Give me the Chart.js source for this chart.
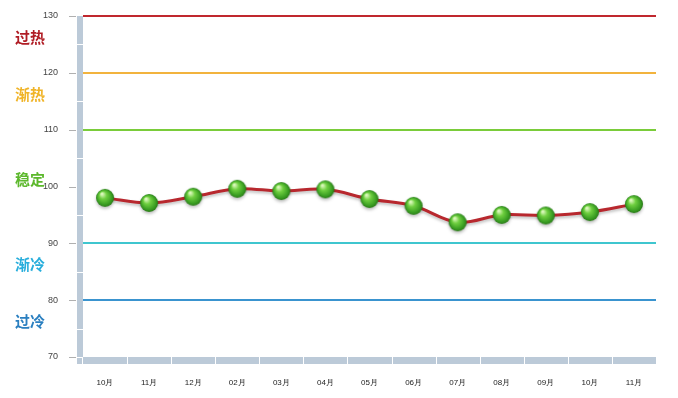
<!DOCTYPE html>
<html>
<head>
<meta charset="utf-8">
<script src="https://cdn.jsdelivr.net/npm/chart.js"></script>
<style>
  html, body { margin: 0; padding: 0; background: #fff; }
  #wrap { width: 678px; height: 398px; }
</style>
</head>
<body>
<div id="wrap"><canvas id="graficoMes"></canvas></div>
<script>
// categorias e valores
const meses = ['10月','11月','12月','02月','03月','04月','05月','06月','07月','08月','09月','10月','11月'];
const valores = [98.0, 97.1, 98.2, 99.6, 99.2, 99.5, 97.8, 96.6, 93.7, 95.0, 94.9, 95.5, 96.9];
// faixas
const limites = [130, 120, 110, 90, 80];
const coresLimite = ['#c0282e', '#f2b33d', '#7acc3a', '#3fc6cf', '#3a94cf'];
const faixas = ['过热', '渐热', '稳定', '渐冷', '过冷'];
const faixasValor = [125, 115, 100, 85, 75];
const coresFaixa = ['#b01c24', '#f0b428', '#5cb82c', '#28aedc', '#2a7fc0'];

// bolinha verde
function bolinha(d) {
  const c = document.createElement('canvas');
  c.width = d + 2; c.height = d + 2;
  const g = c.getContext('2d');
  const r = d / 2, cx = r + 1, cy = r + 1;
  const grad = g.createRadialGradient(cx - r * 0.35, cy - r * 0.45, r * 0.1, cx, cy, r);
  grad.addColorStop(0, '#d8f7b8');
  grad.addColorStop(0.35, '#6fcf40');
  grad.addColorStop(0.8, '#3a9e22');
  grad.addColorStop(1, '#2a7a18');
  g.fillStyle = grad;
  g.beginPath(); g.arc(cx, cy, r, 0, Math.PI * 2); g.fill();
  return c;
}

const fundo = {
  id: 'fundo',
  beforeDatasetsDraw(chart) {
    const ctx = chart.ctx, a = chart.chartArea, y = chart.scales.y;
    ctx.save();
    // parede
    ctx.fillStyle = '#bccad8';
    ctx.fillRect(a.left - 6, a.top, 6, a.bottom - a.top + 7);
    ctx.fillRect(a.left, a.bottom, a.right - a.left, 7);
    ctx.strokeStyle = '#ffffff';
    ctx.lineWidth = 1;
    for (let v = 125; v > 70; v -= 10) {
      const py = Math.round(y.getPixelForValue(v)) + 0.5;
      ctx.beginPath(); ctx.moveTo(a.left - 6, py); ctx.lineTo(a.left, py); ctx.stroke();
    }
    ctx.beginPath(); ctx.moveTo(a.left - 6, a.bottom + 0.5); ctx.lineTo(a.left, a.bottom + 0.5); ctx.stroke();
    ctx.beginPath(); ctx.moveTo(a.left - 0.5, a.bottom); ctx.lineTo(a.left - 0.5, a.bottom + 7); ctx.stroke();
    const w = (a.right - a.left) / meses.length;
    for (let i = 1; i < meses.length; i++) {
      const px = Math.round(a.left + w * i) + 0.5;
      ctx.beginPath(); ctx.moveTo(px, a.bottom); ctx.lineTo(px, a.bottom + 7); ctx.stroke();
    }
    // marcas
    ctx.strokeStyle = '#b0b0b0';
    for (let v = 70; v <= 130; v += 10) {
      const py = Math.round(y.getPixelForValue(v)) + 0.5;
      ctx.beginPath(); ctx.moveTo(a.left - 14, py); ctx.lineTo(a.left - 7, py); ctx.stroke();
    }
    // linhas de limite
    ctx.lineWidth = 2;
    limites.forEach((v, i) => {
      const py = Math.round(y.getPixelForValue(v));
      ctx.strokeStyle = coresLimite[i];
      ctx.beginPath(); ctx.moveTo(a.left, py); ctx.lineTo(a.right, py); ctx.stroke();
    });
    // rotulos das faixas
    ctx.font = 'bold 15px "Noto Sans CJK SC"';
    ctx.textAlign = 'left';
    ctx.textBaseline = 'middle';
    faixas.forEach((t, i) => {
      ctx.fillStyle = coresFaixa[i];
      ctx.fillText(t, 15, y.getPixelForValue(faixasValor[i]) - 7);
    });
    ctx.restore();
  },
  beforeDatasetDraw(chart) {
    const ctx = chart.ctx;
    ctx.save();
    ctx.shadowColor = 'rgba(0,0,0,0.25)';
    ctx.shadowBlur = 3;
    ctx.shadowOffsetY = 2;
  },
  afterDatasetDraw(chart) {
    chart.ctx.restore();
  }
};

const ctxMes = document.getElementById('graficoMes');
const chartMes = new Chart(ctxMes, {
  type: 'line',
  data: {
    labels: meses,
    datasets: [{
      data: valores,
      borderColor: '#b8282e',
      borderWidth: 3,
      backgroundColor: 'transparent',
      tension: 0.35,
      pointStyle: bolinha(18),
      pointRadius: 9
    }]
  },
  options: {
    responsive: true,
    maintainAspectRatio: false,
    animation: false,
    layout: { padding: { top: 16, right: 22, left: 0, bottom: 0 } },
    plugins: { legend: { display: false }, tooltip: { enabled: false } },
    scales: {
      x: {
        offset: true,
        grid: { display: false },
        border: { display: false },
        ticks: { padding: 13, color: '#222', font: { size: 8, family: 'Arial' }, maxRotation: 0 },
        afterFit(s) { s.height = 41; s.paddingLeft = 0; s.paddingRight = 0; }
      },
      y: {
        min: 70, max: 130,
        grid: { display: false },
        border: { display: false },
        ticks: { stepSize: 10, padding: 17, color: '#444', font: { size: 9, family: 'Arial' } },
        afterFit(s) { s.width = 83; s.paddingTop = 0; s.paddingBottom = 0; }
      }
    }
  },
  plugins: [fundo]
});
</script>
</body>
</html>
